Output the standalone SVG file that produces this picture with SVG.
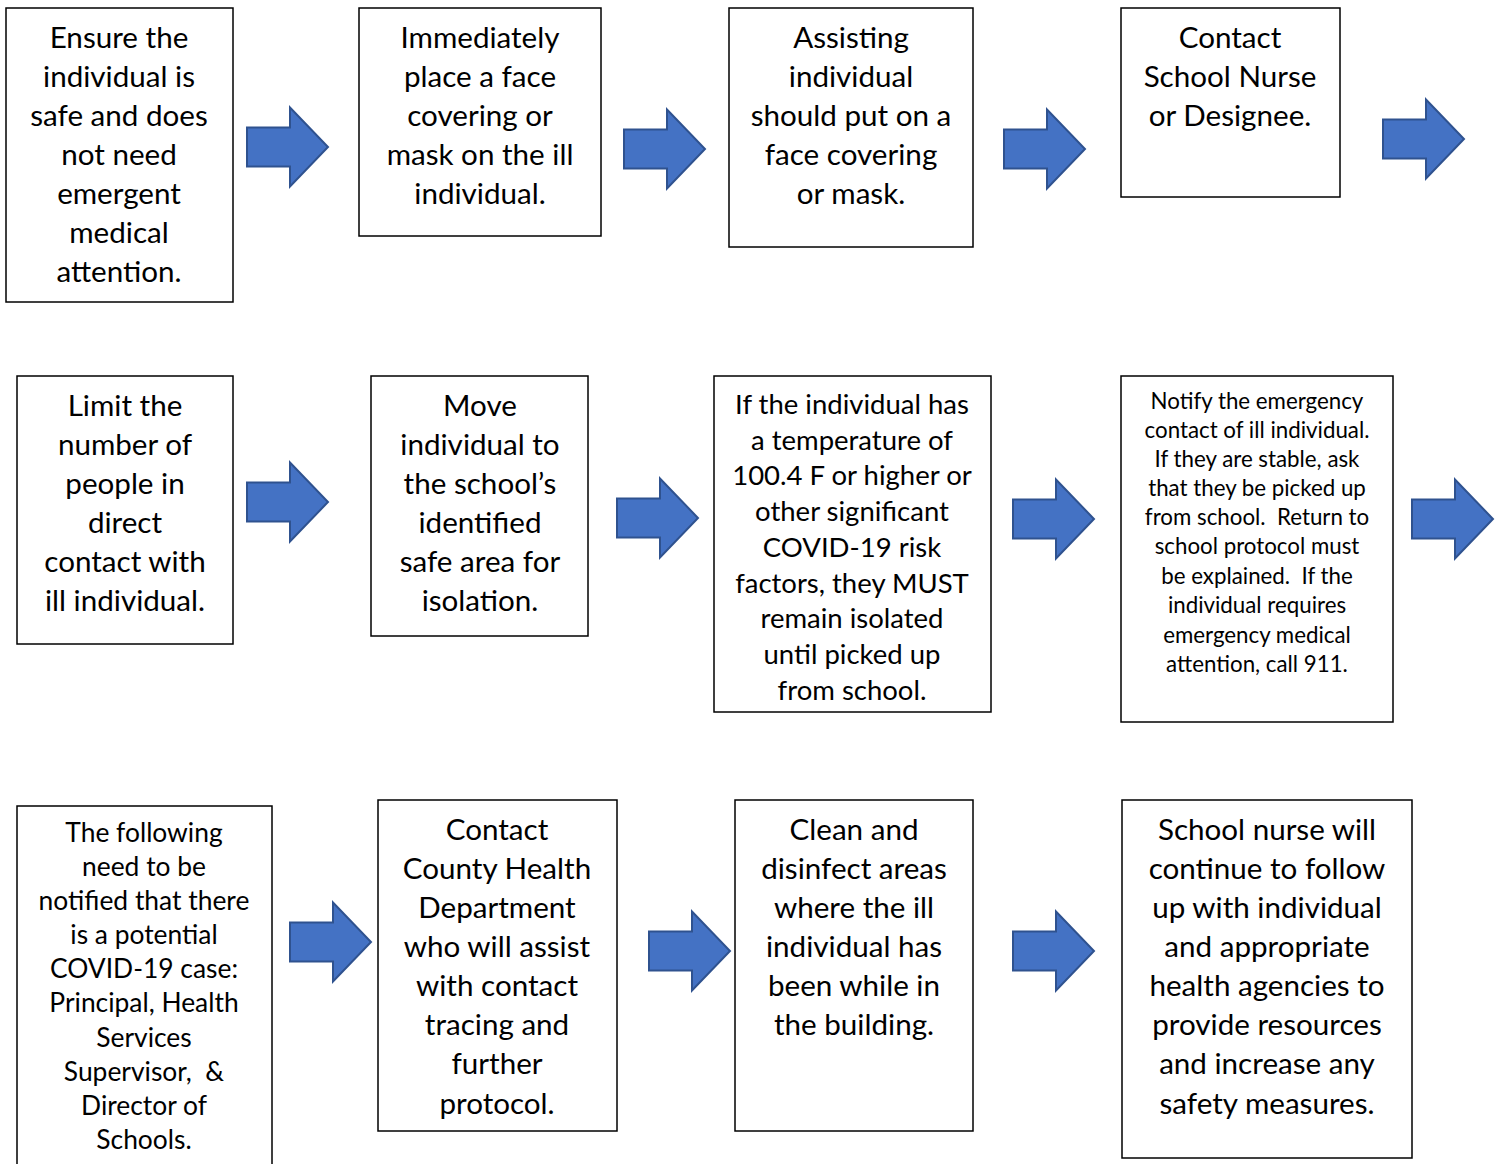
<svg xmlns="http://www.w3.org/2000/svg" width="1502" height="1164" viewBox="0 0 1502 1164">
<defs>
<style>
.box{fill:#fff;stroke:#000;stroke-width:1.5}
.t{font-family:Lato,"Open Sans","Liberation Sans",sans-serif;font-size:29.6px;fill:#000;text-anchor:middle;white-space:pre}
.s{font-size:22.3px}
.m{font-size:27.5px}
.n{font-size:26.4px}
.arr{fill:#4472C4;stroke:#2F528F;stroke-width:2;stroke-linejoin:miter}
</style>
<path id="arrow" class="arr" d="M0,-19.5 L43,-19.5 L43,-39.5 L81,0 L43,39.5 L43,19.5 L0,19.5 Z"/>
</defs>
<rect width="1502" height="1164" fill="#fff"/>
<g id="connectors">
<use href="#arrow" x="247" y="147"/>
<use href="#arrow" x="624" y="149"/>
<use href="#arrow" x="1004" y="149"/>
<use href="#arrow" x="1383" y="139"/>
<use href="#arrow" x="247" y="502"/>
<use href="#arrow" x="617" y="518"/>
<use href="#arrow" x="1013" y="519"/>
<use href="#arrow" x="1412" y="519"/>
<use href="#arrow" x="290" y="942"/>
<use href="#arrow" x="649" y="951"/>
<use href="#arrow" x="1013" y="951"/>
</g>
<g id="n1"><rect class="box" x="6" y="8" width="227" height="294"/>
<text class="t"><tspan x="119" y="48">Ensure the</tspan><tspan x="119" y="87">individual is</tspan><tspan x="119" y="126">safe and does</tspan><tspan x="119" y="165">not need</tspan><tspan x="119" y="204">emergent</tspan><tspan x="119" y="243">medical</tspan><tspan x="119" y="282">attention.</tspan></text></g>
<g id="n2"><rect class="box" x="359" y="8" width="242" height="228"/>
<text class="t"><tspan x="480" y="48">Immediately</tspan><tspan x="480" y="87">place a face</tspan><tspan x="480" y="126">covering or</tspan><tspan x="480" y="165">mask on the ill</tspan><tspan x="480" y="204">individual.</tspan></text></g>
<g id="n3"><rect class="box" x="729" y="8" width="244" height="239"/>
<text class="t"><tspan x="851" y="48">Assisting</tspan><tspan x="851" y="87">individual</tspan><tspan x="851" y="126">should put on a</tspan><tspan x="851" y="165">face covering</tspan><tspan x="851" y="204">or mask.</tspan></text></g>
<g id="n4"><rect class="box" x="1121" y="8" width="219" height="189"/>
<text class="t"><tspan x="1230" y="48">Contact</tspan><tspan x="1230" y="87">School Nurse</tspan><tspan x="1230" y="126">or Designee.</tspan></text></g>
<g id="n5"><rect class="box" x="17" y="376" width="216" height="268"/>
<text class="t"><tspan x="125" y="416">Limit the</tspan><tspan x="125" y="455">number of</tspan><tspan x="125" y="494">people in</tspan><tspan x="125" y="533">direct</tspan><tspan x="125" y="572">contact with</tspan><tspan x="125" y="611">ill individual.</tspan></text></g>
<g id="n6"><rect class="box" x="371" y="376" width="217" height="260"/>
<text class="t"><tspan x="480" y="416">Move</tspan><tspan x="480" y="455">individual to</tspan><tspan x="480" y="494">the school’s</tspan><tspan x="480" y="533">identified</tspan><tspan x="480" y="572">safe area for</tspan><tspan x="480" y="611">isolation.</tspan></text></g>
<g id="n7"><rect class="box" x="714" y="376" width="277" height="336"/>
<text class="t m"><tspan x="852" y="414">If the individual has</tspan><tspan x="852" y="450">a temperature of</tspan><tspan x="852" y="485">100.4 F or higher or</tspan><tspan x="852" y="521">other significant</tspan><tspan x="852" y="557">COVID-19 risk</tspan><tspan x="852" y="593">factors, they MUST</tspan><tspan x="852" y="628">remain isolated</tspan><tspan x="852" y="664">until picked up</tspan><tspan x="852" y="700">from school.</tspan></text></g>
<g id="n8"><rect class="box" x="1121" y="376" width="272" height="346"/>
<text class="t s"><tspan x="1257" y="409">Notify the emergency</tspan><tspan x="1257" y="438">contact of ill individual.</tspan><tspan x="1257" y="467">If they are stable, ask</tspan><tspan x="1257" y="496">that they be picked up</tspan><tspan x="1257" y="525">from school.  Return to</tspan><tspan x="1257" y="554">school protocol must</tspan><tspan x="1257" y="584">be explained.  If the</tspan><tspan x="1257" y="613">individual requires</tspan><tspan x="1257" y="643">emergency medical</tspan><tspan x="1257" y="672">attention, call 911.</tspan></text></g>
<g id="n9"><rect class="box" x="17" y="806" width="255" height="370"/>
<text class="t n"><tspan x="144" y="842">The following</tspan><tspan x="144" y="876">need to be</tspan><tspan x="144" y="910">notified that there</tspan><tspan x="144" y="944">is a potential</tspan><tspan x="144" y="978">COVID-19 case:</tspan><tspan x="144" y="1012">Principal, Health</tspan><tspan x="144" y="1047">Services</tspan><tspan x="144" y="1081">Supervisor,  &amp;</tspan><tspan x="144" y="1115">Director of</tspan><tspan x="144" y="1149">Schools.</tspan></text></g>
<g id="n10"><rect class="box" x="378" y="800" width="239" height="331"/>
<text class="t"><tspan x="497" y="840">Contact</tspan><tspan x="497" y="879">County Health</tspan><tspan x="497" y="918">Department</tspan><tspan x="497" y="957">who will assist</tspan><tspan x="497" y="996">with contact</tspan><tspan x="497" y="1035">tracing and</tspan><tspan x="497" y="1074">further</tspan><tspan x="497" y="1114">protocol.</tspan></text></g>
<g id="n11"><rect class="box" x="735" y="800" width="238" height="331"/>
<text class="t"><tspan x="854" y="840">Clean and</tspan><tspan x="854" y="879">disinfect areas</tspan><tspan x="854" y="918">where the ill</tspan><tspan x="854" y="957">individual has</tspan><tspan x="854" y="996">been while in</tspan><tspan x="854" y="1035">the building.</tspan></text></g>
<g id="n12"><rect class="box" x="1122" y="800" width="290" height="358"/>
<text class="t"><tspan x="1267" y="840">School nurse will</tspan><tspan x="1267" y="879">continue to follow</tspan><tspan x="1267" y="918">up with individual</tspan><tspan x="1267" y="957">and appropriate</tspan><tspan x="1267" y="996">health agencies to</tspan><tspan x="1267" y="1035">provide resources</tspan><tspan x="1267" y="1074">and increase any</tspan><tspan x="1267" y="1114">safety measures.</tspan></text></g>
</svg>
